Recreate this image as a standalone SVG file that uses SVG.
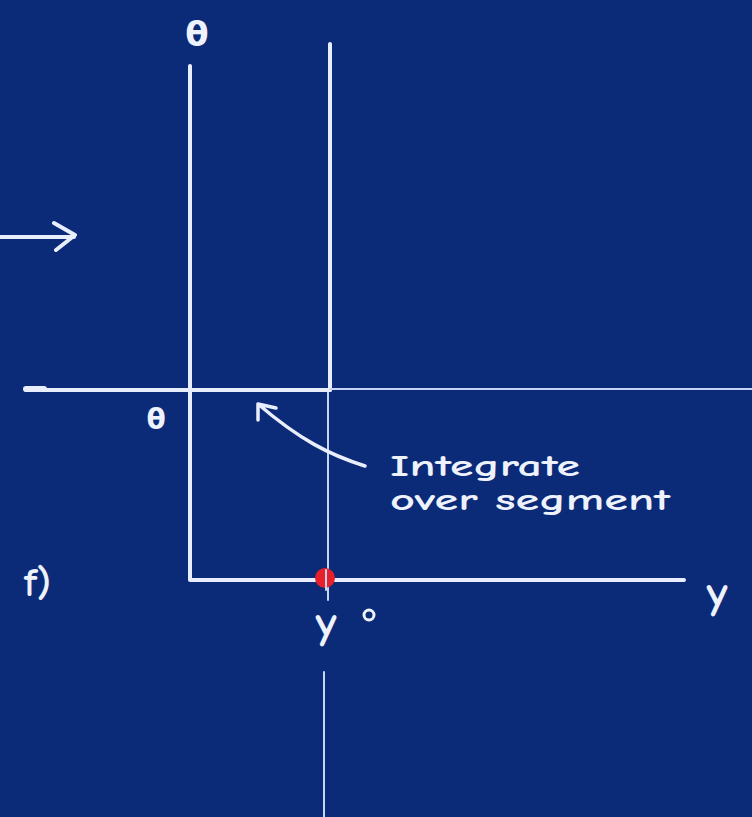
<svg xmlns="http://www.w3.org/2000/svg" width="752" height="817" viewBox="0 0 752 817">
<style>
.ln{stroke:#e8eefc;fill:none;stroke-linecap:round;stroke-linejoin:round}
.thk{stroke-width:4}
.thn{stroke-width:2;stroke:#c8d4f4}
.tx{fill:#eef2fc;font-family:"Comic Neue","DejaVu Sans","Liberation Sans",sans-serif;font-weight:bold}
</style>
<rect width="752" height="817" fill="#0b2a78"/>
<g id="connectors">
  <path class="ln thk" d="M190 66 V580 H684"/>
  <path class="ln thk" d="M330 44 V390"/>
  <path class="ln thn" d="M328 390 V600"/>
  <path class="ln thn" d="M324 672 V817"/>
  <path class="ln thk" d="M26 390 H330"/>
  <path class="ln" stroke-width="6" d="M26 389 H44"/>
  <path class="ln thn" d="M330 389 H752"/>
  <path class="ln thk" d="M0 237 H74 M54 223 L75 235 L56 250"/>
  <path class="ln" stroke-width="3.5" d="M365 466 C330 455 300 440 258 404 M258 404 L258 420 M258 404 L276 408"/>
</g>
<g id="dot"><circle cx="325" cy="578" r="10" fill="#e8202a"/><path class="ln thn" d="M326 570 V590"/></g>
<g id="label-theta-top"><text class="tx" x="197" y="46" font-size="34" text-anchor="middle">θ</text></g>
<g id="label-theta-mid"><text class="tx" x="156" y="429" font-size="28" text-anchor="middle">θ</text></g>
<g id="label-note"><text class="tx" x="390" y="476" font-size="31" textLength="190" lengthAdjust="spacingAndGlyphs">Integrate</text><text class="tx" x="390" y="510" font-size="31" textLength="280" lengthAdjust="spacingAndGlyphs">over segment</text></g>
<g id="label-f"><text class="tx" x="24" y="596" font-size="40">f)</text></g>
<g id="label-y"><text class="tx" x="717" y="608" font-size="46" text-anchor="middle">y</text></g>
<g id="label-y0"><text class="tx" x="326" y="638" font-size="46" text-anchor="middle">y</text><circle cx="369" cy="615" r="5" fill="none" stroke="#eef2fc" stroke-width="3"/></g>
</svg>
